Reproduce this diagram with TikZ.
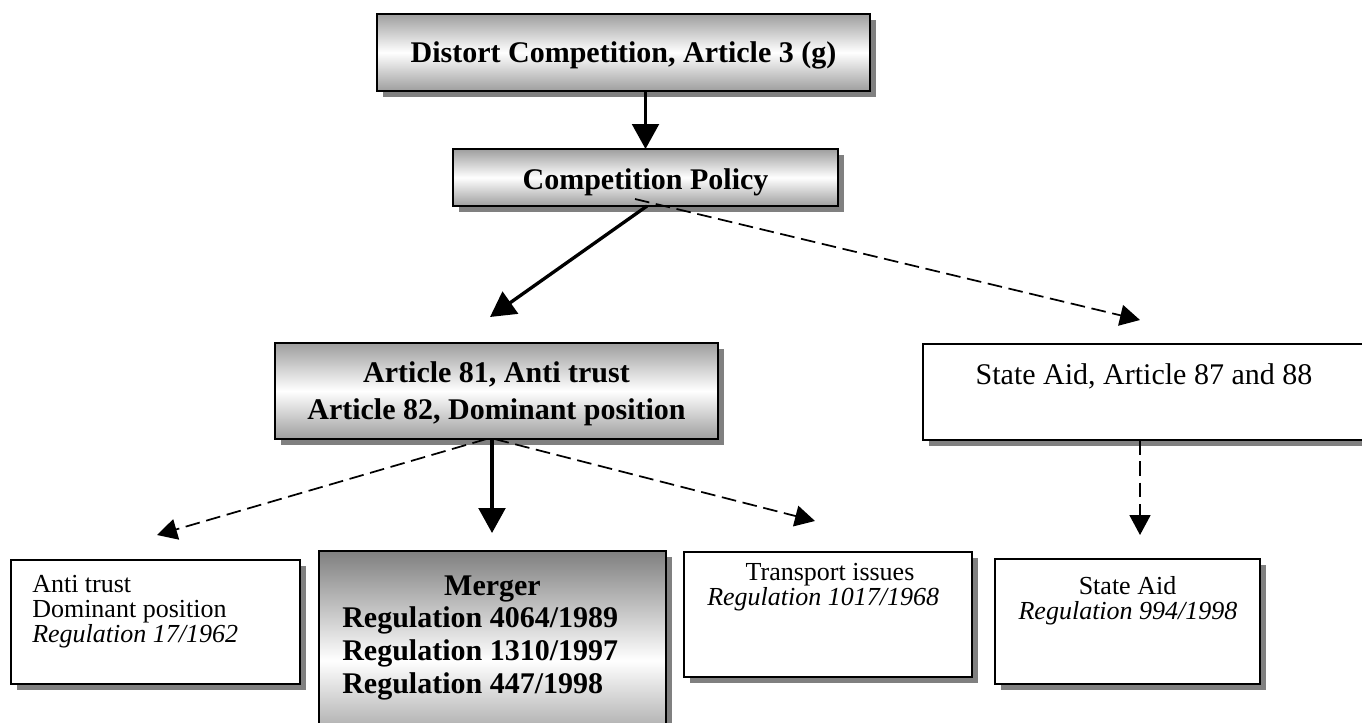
\documentclass[tikz,border=0pt]{standalone}
\usepackage{fontspec}
\setmainfont{Liberation Serif}
\usetikzlibrary{arrows.meta,shadows,calc}
\newcommand\fbold{\fontsize{22.5pt}{27pt}\selectfont\bfseries}
\newcommand\fbig{\fontsize{22.5pt}{27pt}\selectfont}
\newcommand\fsmall{\fontsize{19.5pt}{21pt}\selectfont}
\tikzset{
  shadowed/.style={drop shadow={shadow xshift=4.5pt,shadow yshift=-4.5pt,fill=black!50,opacity=1}},
  gradbox/.style={shadowed,draw=black,line width=1.2pt,top color=black!38,bottom color=black!38,middle color=white,inner sep=0pt,outer sep=0pt},
  darkgradbox/.style={shadowed,draw=black,line width=1.2pt,top color=black!50,bottom color=black!50,middle color=white,inner sep=0pt,outer sep=0pt},
  plainbox/.style={shadowed,draw=black,line width=1.2pt,fill=white,inner sep=0pt,outer sep=0pt},
  txt/.style={inner sep=0pt,anchor=base},
  txtl/.style={inner sep=0pt,anchor=base west},
  solidarrow/.style={line width=2.5pt,-{Triangle[length=18.75pt,width=20pt]}},
  dasharrow/.style={line width=1.3pt,dash pattern=on 11pt off 5pt,-{Triangle[length=15pt,width=15.75pt]}},
}
\begin{document}
\begin{tikzpicture}[x=0.75pt,y=-0.75pt]
\useasboundingbox (0,0) rectangle (1362,722);
\clip (0,0) rectangle (1362,722);
\fill[white] (0,0) rectangle (1362,722);

% top level
\node[gradbox,minimum width=369.75pt,minimum height=57.75pt] (dist) at (623.5,52.5) {};
\node[txt,font=\fbold] (distT) at (623.5,62) {Distort Competition, Article 3 (g)};

\node[gradbox,minimum width=288.75pt,minimum height=42.75pt] (comp) at (645.5,177.5) {};
\node[txt,font=\fbold] (compT) at (645.5,189) {Competition Policy};

% second level
\node[gradbox,minimum width=332.25pt,minimum height=72pt] (art) at (496.5,391) {};
\node[txt,font=\fbold] (artA) at (496.5,382) {Article 81, Anti trust};
\node[txt,font=\fbold] (artB) at (496.5,419) {Article 82, Dominant position};

\node[plainbox,minimum width=335.25pt,minimum height=72pt] (sa) at (1146.5,392) {};
\node[txt,font=\fbig] (saT) at (1144,384) {State Aid, Article 87 and 88};

% third level
\node[plainbox,minimum width=216.75pt,minimum height=93pt] (anti) at (155.5,622) {};
\node[txtl,font=\fsmall] (antiA) at (32,592) {Anti trust};
\node[txtl,font=\fsmall] (antiB) at (32,617) {Dominant position};
\node[txtl,font=\fsmall\itshape] (antiC) at (32,642) {Regulation 17/1962};

\node[darkgradbox,minimum width=260.25pt,minimum height=164.25pt] (merg) at (492.5,660.5) {};
\node[txt,font=\fbold] (mergA) at (492.5,595) {Merger};
\node[txtl,font=\fbold] (mergB) at (342,627) {Regulation 4064/1989};
\node[txtl,font=\fbold] (mergC) at (342,660) {Regulation 1310/1997};
\node[txtl,font=\fbold] (mergD) at (342,693) {Regulation 447/1998};

\node[plainbox,minimum width=216pt,minimum height=93.75pt] (trans) at (828,614.5) {};
\node[txt,font=\fsmall] (transA) at (830,580) {Transport issues};
\node[txtl,font=\fsmall\itshape] (transB) at (707,605) {Regulation 1017/1968};

\node[plainbox,minimum width=198.75pt,minimum height=93.75pt] (sas) at (1127.5,621.5) {};
\node[txt,font=\fsmall] (sasA) at (1127.5,594) {State Aid};
\node[txt,font=\fsmall\itshape] (sasB) at (1128,619) {Regulation 994/1998};

% arrow end points above the lower boxes
\coordinate (artIn) at (490,317);
\coordinate (saIn) at (1140,320);
\coordinate (mergIn) at (492,533);
\coordinate (antiIn) at (157,535);
\coordinate (transIn) at (815,521);
\coordinate (sasIn) at (1140,535);

% connectors
\draw[solidarrow] (dist.south -| comp.north) -- (comp.north);
\draw[solidarrow] ($(comp.south)+(1.5,0)$) -- (artIn);
\draw[dasharrow] ($(comp.south)+(-10.5,-7)$) -- (saIn);
\draw[solidarrow] (art.south -| mergIn) -- (mergIn);
\draw[dasharrow] ($(art.south)+(-10,0)$) -- (antiIn);
\draw[dasharrow] ($(art.south)+(-2,0)$) -- (transIn);
\draw[dasharrow] (sa.south -| sasIn) -- (sasIn);
\end{tikzpicture}
\end{document}
